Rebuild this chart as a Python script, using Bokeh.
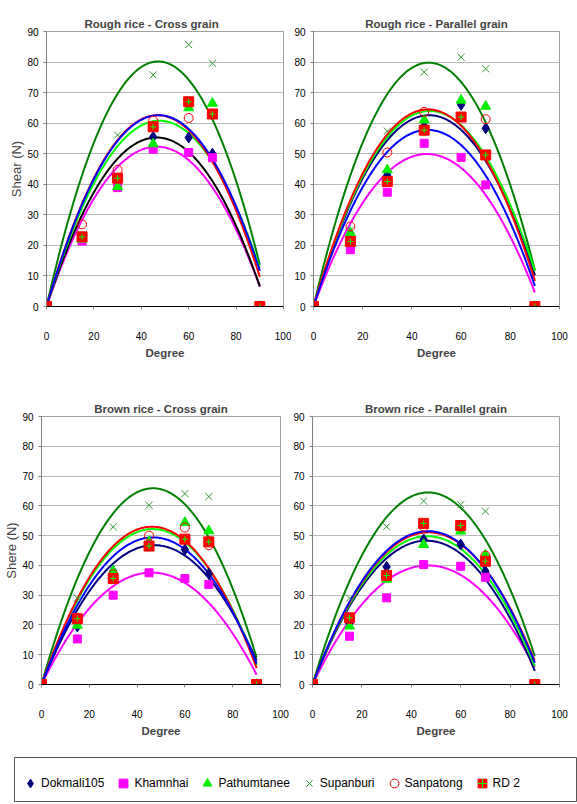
import numpy as np
from bokeh.plotting import figure
from bokeh.layouts import column, row
from bokeh.models import Range1d, Legend, LegendItem, FixedTicker, ColumnDataSource
from bokeh.embed import file_html
from bokeh.resources import INLINE

# ---------------- data ----------------
degree = [0, 15, 30, 45, 60, 70, 90]
varieties = ["Dokmali105", "Khamnhai", "Pathumtanee", "Supanburi", "Sanpatong", "RD 2"]
x_ticks = [0, 20, 40, 60, 80, 100]
y_ticks = [0, 10, 20, 30, 40, 50, 60, 70, 80, 90]

# Rough rice - Cross grain (shear, N)
rough_cross_dokmali105 = [0, 22, 40, 55.5, 55.3, 50, 0]
rough_cross_khamnhai = [0, 21.4, 38.9, 51.5, 50.4, 48.7, 0]
rough_cross_pathumtanee = [0, 22, 39.2, 53.2, 65, 66.5, 0]
rough_cross_supanburi = [0, 23, 56.1, 75.8, 85.7, 79.6, 0]
rough_cross_sanpatong = [0, 26.9, 44.7, 60.8, 61.7, 63, 0]
rough_cross_rd2 = [0, 22.8, 42, 58.8, 67, 63, 0]
# trend curve: peak value and value at 90 degree (order of varieties)
rough_cross_trend_peak = [55.3, 52.3, 60.8, 80.2, 62.6, 62.6]
rough_cross_trend_end = [6.6, 6.6, 12.6, 13.7, 9.7, 11.7]

# Rough rice - Parallel grain
rough_par_dokmali105 = [0, 23, 43, 59, 66, 58.3, 0]
rough_par_khamnhai = [0, 18.6, 37.4, 53.4, 48.8, 39.8, 0]
rough_par_pathumtanee = [0, 24.1, 44.7, 61, 67.5, 65.5, 0]
rough_par_supanburi = [0, 25, 57.4, 76.7, 81.6, 77.8, 0]
rough_par_sanpatong = [0, 26.2, 50.4, 63.7, 62, 61.3, 0]
rough_par_rd2 = [0, 21.3, 40.9, 57.7, 62, 49.6, 0]
rough_par_trend_peak = [62.6, 49.9, 64, 79.8, 64.5, 57.8]
rough_par_trend_end = [10.2, 4.6, 11.6, 11.9, 8.4, 6.7]

# Brown rice - Cross grain
brown_cross_dokmali105 = [0, 19.5, 38.1, 47, 45.3, 37.2, 0]
brown_cross_khamnhai = [0, 15.3, 30, 37.5, 35.6, 33.6, 0]
brown_cross_pathumtanee = [0, 19.9, 38.1, 48, 54.4, 51.6, 0]
brown_cross_supanburi = [0, 29, 52.9, 60.2, 64.1, 63.1, 0]
brown_cross_sanpatong = [0, 22.4, 37, 50, 52.7, 46.8, 0]
brown_cross_rd2 = [0, 22.1, 35.6, 46.5, 48.8, 47.9, 0]
brown_cross_trend_peak = [46.8, 37.6, 52.2, 65.9, 53, 49.4]
brown_cross_trend_end = [8, 3.3, 6.5, 9, 5.5, 7]

# Brown rice - Parallel grain
brown_par_dokmali105 = [0, 20.5, 39.5, 48.7, 47, 38, 0]
brown_par_khamnhai = [0, 16.2, 29.1, 40.3, 39.7, 36, 0]
brown_par_pathumtanee = [0, 19.6, 35.3, 47, 51.5, 43.5, 0]
brown_par_supanburi = [0, 29, 53, 61.6, 60.4, 58.2, 0]
brown_par_sanpatong = [0, 22, 37, 53, 53, 43.3, 0]
brown_par_rd2 = [0, 22.4, 36.6, 54.1, 53.4, 41.4, 0]
brown_par_trend_peak = [48.3, 40, 49.8, 64.5, 51.1, 51.5]
brown_par_trend_end = [4.6, 5.7, 6.2, 9.5, 7.9, 7.3]

# ---------------- styling ----------------
FONT = "Liberation Sans"
NAVY = "#000080"
MAGENTA = "#ff00ff"
LIME = "#00ee00"
XGREEN = "#339933"
RED = "#ff0000"

curve_colors = {"Dokmali105": NAVY, "Khamnhai": MAGENTA, "Pathumtanee": "#00ff00",
                "Supanburi": "#008000", "Sanpatong": RED, "RD 2": "#0000ff"}
curve_order = ["Supanburi", "Khamnhai", "Dokmali105", "Pathumtanee", "Sanpatong", "RD 2"]

xs = np.linspace(0, 90, 181)


def trend(peak, end):
    # 2nd order trendline through origin, with given maximum and value at 90 degree
    if end <= 0:
        h = 45.0
    else:
        disc = (180 * peak) ** 2 - 4 * end * 8100 * peak
        h = (180 * peak - np.sqrt(disc)) / (2 * end)
    a = -peak / h ** 2
    b = 2 * peak / h
    return a * xs ** 2 + b * xs


def add_markers(p, name, ys):
    src = ColumnDataSource(dict(x=degree, y=ys))
    rs = []
    if name == "Dokmali105":
        rs.append(p.scatter("x", "y", source=src, marker="diamond", size=11,
                            fill_color=NAVY, line_color=NAVY))
    elif name == "Khamnhai":
        rs.append(p.scatter("x", "y", source=src, marker="square", size=8,
                            fill_color=MAGENTA, line_color=MAGENTA))
    elif name == "Pathumtanee":
        rs.append(p.scatter("x", "y", source=src, marker="triangle", size=10,
                            fill_color=LIME, line_color=LIME))
    elif name == "Supanburi":
        rs.append(p.scatter("x", "y", source=src, marker="x", size=10,
                            line_color=XGREEN, line_width=1))
    elif name == "Sanpatong":
        rs.append(p.scatter("x", "y", source=src, marker="circle", size=9,
                            fill_alpha=0, line_color=RED, line_width=1))
    else:
        rs.append(p.scatter("x", "y", source=src, marker="square", size=10,
                            fill_color=RED, line_color=RED))
        rs.append(p.scatter("x", "y", source=src, marker="cross", size=6,
                            line_color="#00ff00", line_width=1))
    return rs


def make_panel(title, series, peaks, ends, dok_curve, ylabel,
               fw, fh, bl, br, bt, bb, title_align="center", title_offset=0):
    p = figure(frame_width=fw, frame_height=fh,
               min_border_left=bl, min_border_right=br,
               min_border_top=bt, min_border_bottom=bb,
               x_range=Range1d(0, 100), y_range=Range1d(0, 90),
               output_backend="svg", toolbar_location=None, title=title)
    p.title.text_font = FONT
    p.title.text_font_size = "11.5px"
    p.title.text_font_style = "bold"
    p.title.align = title_align
    p.title.offset = title_offset
    p.title.standoff = 4

    p.xaxis.ticker = FixedTicker(ticks=x_ticks)
    p.yaxis.ticker = FixedTicker(ticks=y_ticks)
    for ax in (p.xaxis[0], p.yaxis[0]):
        ax.major_label_text_font = FONT
        ax.major_label_text_font_size = "10px"
        ax.major_label_text_color = "#000000"
        ax.minor_tick_line_color = None
        ax.major_tick_in = 0
        ax.major_tick_out = 3
        ax.major_tick_line_color = "#808080"
    p.xaxis.axis_line_color = "#000000"
    p.yaxis.axis_line_color = "#808080"
    p.xaxis.major_label_standoff = 22
    p.yaxis.major_label_standoff = 5
    p.xaxis.axis_label = "Degree"
    p.xaxis.axis_label_text_font = FONT
    p.xaxis.axis_label_text_font_size = "11.5px"
    p.xaxis.axis_label_text_font_style = "bold"
    p.xaxis.axis_label_standoff = 4
    if ylabel:
        p.yaxis.axis_label = ylabel
        p.yaxis.axis_label_text_font = FONT
        p.yaxis.axis_label_text_font_size = "13px"
        p.yaxis.axis_label_text_font_style = "normal"
        p.yaxis.axis_label_standoff = 0

    p.xgrid.grid_line_color = None
    p.ygrid.grid_line_color = "#b8b8b8"
    p.outline_line_color = "#a0a0a0"
    p.background_fill_color = "white"

    lookup = dict(zip(varieties, series))
    pk = dict(zip(varieties, peaks))
    en = dict(zip(varieties, ends))
    for name in curve_order:
        col = dok_curve if name == "Dokmali105" else curve_colors[name]
        p.line(xs, trend(pk[name], en[name]), line_color=col, line_width=2)
    for name in varieties:
        add_markers(p, name, lookup[name])
    return p


p1 = make_panel("Rough rice - Cross grain",
                [rough_cross_dokmali105, rough_cross_khamnhai, rough_cross_pathumtanee,
                 rough_cross_supanburi, rough_cross_sanpatong, rough_cross_rd2],
                rough_cross_trend_peak, rough_cross_trend_end, "#000000", "Shear (N)",
                237, 275, 46, 8, 31, 84, title_align="left", title_offset=38)
p2 = make_panel("Rough rice - Parallel grain",
                [rough_par_dokmali105, rough_par_khamnhai, rough_par_pathumtanee,
                 rough_par_supanburi, rough_par_sanpatong, rough_par_rd2],
                rough_par_trend_peak, rough_par_trend_end, NAVY, None,
                246, 275, 21, 17, 31, 84)
p3 = make_panel("Brown rice - Cross grain",
                [brown_cross_dokmali105, brown_cross_khamnhai, brown_cross_pathumtanee,
                 brown_cross_supanburi, brown_cross_sanpatong, brown_cross_rd2],
                brown_cross_trend_peak, brown_cross_trend_end, NAVY, "Shere (N)",
                239, 268, 41, 10, 26, 58)
p4 = make_panel("Brown rice - Parallel grain",
                [brown_par_dokmali105, brown_par_khamnhai, brown_par_pathumtanee,
                 brown_par_supanburi, brown_par_sanpatong, brown_par_rd2],
                brown_par_trend_peak, brown_par_trend_end, NAVY, None,
                247, 268, 21, 17, 26, 58)

# ---------------- legend strip ----------------
leg = figure(frame_width=563, frame_height=45, min_border_left=14, min_border_right=0,
             min_border_top=15, min_border_bottom=0,
             x_range=Range1d(0, 1), y_range=Range1d(0, 1),
             x_axis_location=None, y_axis_location=None,
             output_backend="svg", toolbar_location=None)
leg.xgrid.grid_line_color = None
leg.ygrid.grid_line_color = None
leg.outline_line_color = "#555555"
items = []
for name in varieties:
    rs = add_markers(leg, name, [np.nan] * len(degree))
    items.append(LegendItem(label=name, renderers=rs))
legend = Legend(items=items, orientation="horizontal", location=(5, 8),
                glyph_width=22, glyph_height=22, label_height=22, label_standoff=0,
                spacing=8, padding=0, margin=0, border_line_alpha=0,
                background_fill_alpha=0, label_text_font=FONT,
                label_text_font_size="12px", label_text_color="#000000")
leg.add_layout(legend)

layout = column(row(p1, p2), row(p3, p4), leg)
open("out.html", "w").write(file_html(layout, INLINE))
